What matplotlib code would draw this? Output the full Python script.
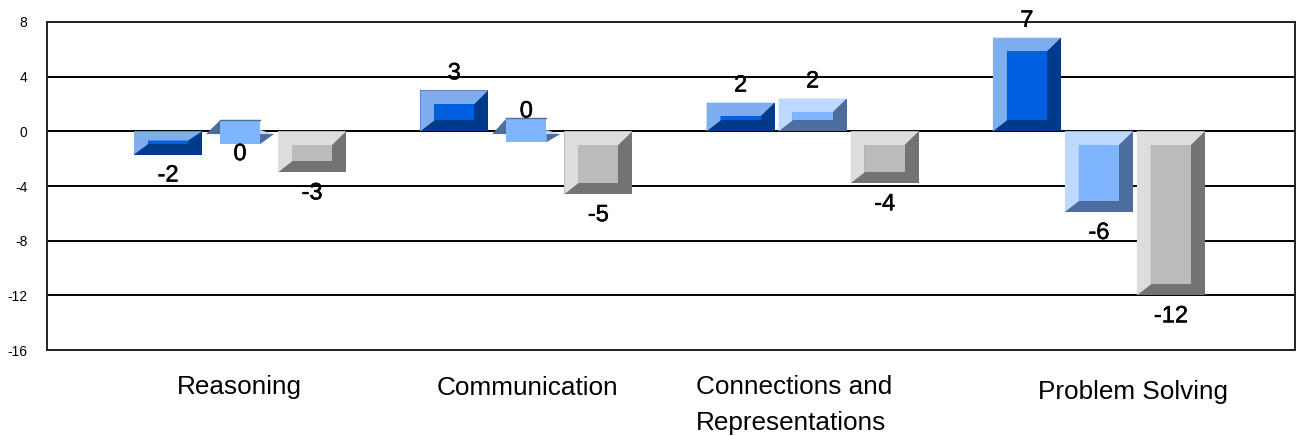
import matplotlib
matplotlib.use("Agg")
import matplotlib.pyplot as plt
import matplotlib.patheffects as pe

plt.rcParams['font.family'] = ['Liberation Sans', 'DejaVu Sans']
plt.rcParams['axes.unicode_minus'] = False

categories = ["Reasoning", "Communication", "Connections and\nRepresentations", "Problem Solving"]
series_a = [-1.7, 3.0, 2.1, 6.85]
series_b = [-0.07, 0.07, 2.4, -5.9]
series_c = [-3.0, -4.6, -3.8, -12.0]
labels_a = ["-2", "3", "2", "7"]
labels_b = ["0", "0", "2", "-6"]
labels_c = ["-3", "-5", "-4", "-12"]
y_ticks = [8, 4, 0, -4, -8, -12, -16]

# light, mid, dark
colors_a = ("#7FAEEE", "#0060E0", "#003A8A")
colors_b = ("#BDD9FF", "#7FB5FF", "#4C6D9D")
colors_c = ("#DDDDDD", "#BBBBBB", "#737373")

W, H = 1296, 436
BAR_W = 68 / 286.3
STEP = 72 / 286.3
DX = 14 / 286.3  # bevel width, x units
TOP = 1.0  # bevel height, y units
BOT = 0.8
ZERO = 0.87  # half height of the front of a bar near zero


def bevel_bar(ax, x, v, cols):
    light, mid, dark = cols
    x0, x1 = x - BAR_W / 2, x + BAR_W / 2
    if abs(v) < 0.5:
        # flat bar: front sticks out past the bevels
        top, bottom = v + ZERO, v - ZERO
        base = -0.2
        ax.fill([x0, x0 + DX, x0 + DX], [base, top, base], color=dark, lw=0, zorder=3)
        ax.fill([x1 - DX, x1, x1 - DX], [base, base, base + 0.3], color=light, lw=0, zorder=3)
        ax.fill([x1 - DX, x1, x1 - DX], [bottom, base, base], color=dark, lw=0, zorder=3)
        ax.fill([x0 + DX, x1 - DX, x1 - DX, x0 + DX], [top, top, bottom, bottom], color=mid, lw=0, zorder=4)
        ax.plot([x0 + DX, x1 - DX], [top, top], color=dark, lw=1, zorder=5)
        return top, bottom
    y_top, y_bot = max(v, 0), min(v, 0)
    h = y_top - y_bot
    t = TOP if h >= 2 else 0.4 * h
    b = BOT if h >= 2 else 0.45 * h
    ix0, ix1 = x0 + DX, x1 - DX
    iy1, iy0 = y_top - t, y_bot + b
    ax.fill([x0, x1, x1, x0], [y_top, y_top, y_bot, y_bot], color=dark, lw=0, zorder=3)
    ax.fill([x0, x1, ix1, ix0, ix0, x0], [y_top, y_top, iy1, iy1, iy0, y_bot], color=light, lw=0, zorder=4)
    ax.fill([ix0, ix1, ix1, ix0], [iy1, iy1, iy0, iy0], color=mid, lw=0, zorder=5)
    return y_top, y_bot


def value_label(ax, x, top, bottom, v, text):
    flat = abs(v) < 0.5
    if v > 0:
        y, off = top, 7 if flat else 17
    else:
        y, off = bottom, -10 if flat else -21
    t = ax.annotate(text, (x, y), xytext=(0, off), textcoords="offset pixels",
                    ha="center", va="center", fontsize=17, color="black", zorder=6)
    t.set_path_effects([pe.withStroke(linewidth=0.35, foreground="black")])


fig = plt.figure(figsize=(W / 100, H / 100), dpi=100)
ax = fig.add_axes([47 / W, (H - 350) / H, (1295 - 47) / W, (350 - 22) / H])
ax.set_xlim(-193 / 286.3, 1055 / 286.3)
ax.set_ylim(-16, 8)
ax.set_yticks(y_ticks)
ax.set_xticks([])
ax.tick_params(axis="y", length=0, pad=14, labelsize=10)
ax.yaxis.grid(True, color="black", lw=1.4, zorder=1)
ax.set_axisbelow(True)
for s in ax.spines.values():
    s.set_linewidth(1.4)
    s.set_color("#222222")

for i in range(len(categories)):
    for off, vals, labs, cols in ((-STEP, series_a, labels_a, colors_a),
                                  (0, series_b, labels_b, colors_b),
                                  (STEP, series_c, labels_c, colors_c)):
        top, bottom = bevel_bar(ax, i + off, vals[i], cols)
        value_label(ax, i + off, top, bottom, vals[i], labs[i])

fig.text(239 / W, 1 - 387 / H, categories[0], ha="center", va="center", fontsize=18.8)
fig.text(527 / W, 1 - 388 / H, categories[1], ha="center", va="center", fontsize=18.8)
fig.text(696 / W, 1 - 405 / H, categories[2], ha="left", va="center", fontsize=18.8, linespacing=1.6)
fig.text(1133 / W, 1 - 392 / H, categories[3], ha="center", va="center", fontsize=18.8)

fig.savefig("out.png", dpi=100)
